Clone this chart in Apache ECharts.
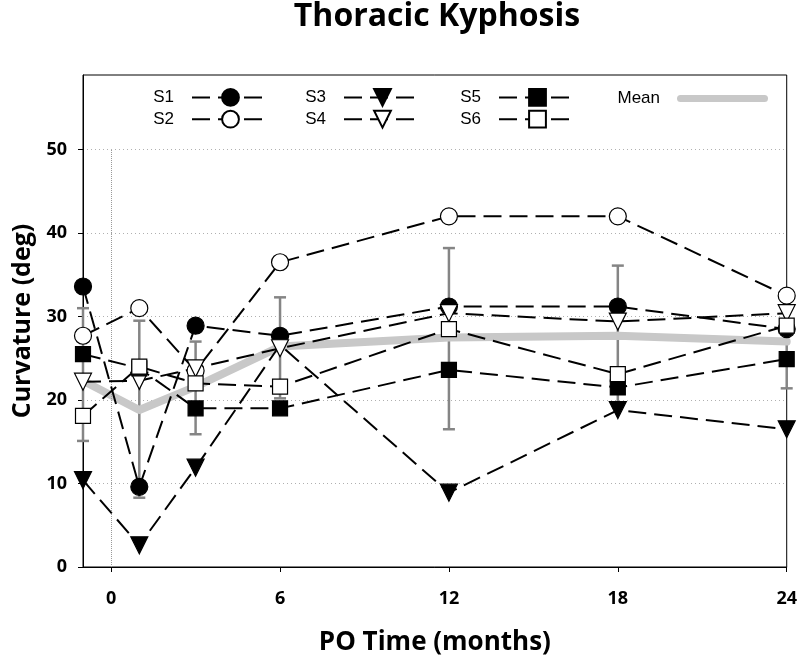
<!DOCTYPE html>
<html>
<head>
<meta charset="utf-8">
<script src="https://cdn.jsdelivr.net/npm/echarts@6/dist/echarts.min.js"></script>
<style>html,body{margin:0;padding:0;background:#fff;overflow:hidden}#c{width:800px;height:661px}</style>
</head>
<body>
<div id="c"></div>
<script>
const months = [-1, 1, 3, 6, 12, 18, 24];
const s1 = [33.6, 9.6, 28.9, 27.7, 31.2, 31.2, 28.5];
const s2 = [27.7, 31.0, 23.5, 36.5, 42.0, 42.0, 32.5];
const s3 = [10.4, 2.6, 11.9, 26.6, 8.9, 18.8, 16.5];
const s4 = [22.2, 22.3, 23.8, 26.2, 30.4, 29.4, 30.4];
const s5 = [25.5, 23.8, 19.0, 19.0, 23.6, 21.5, 24.9];
const s6 = [18.1, 24.0, 22.0, 21.6, 28.5, 23.1, 28.9];
const meanVals = [22.3, 18.8, 21.6, 26.4, 27.5, 27.7, 27.0];
const errLow = [15.1, 8.3, 15.9, 20.2, 16.5, 19.3, 21.4];
const errHigh = [31.0, 29.5, 27.0, 32.3, 38.2, 36.1, 32.6];
const xTicks = [0, 6, 12, 18, 24];
const yTicks = [0, 10, 20, 30, 40, 50];

const pairs = arr => months.map((m, i) => [m, arr[i]]);
const errData = months.map((m, i) => [m, errLow[i], errHigh[i]]);

const dash = [18, 8];
function sSeries(name, vals, symbol, filled, size, rotate) {
  return {
    name, type: 'line', data: pairs(vals), symbol, symbolSize: size, symbolRotate: rotate || 0,
    showAllSymbol: true, clip: false, z: 5,
    lineStyle: { color: '#000', width: 2, type: dash },
    itemStyle: { color: filled ? '#000' : '#fff', borderColor: '#000', borderWidth: 1.2 },
    emphasis: { disabled: true }
  };
}

const legText = { fontFamily: 'Liberation Sans, Arial, sans-serif', fontSize: 17, color: '#000', padding: [0, 13, 0, 0] };
function leg(data, right, w) {
  return { data, orient: 'vertical', right, top: 83, align: 'right', itemWidth: w || 77, itemHeight: 21,
    itemGap: 3, selectedMode: false, textStyle: legText };
}
const capsule = 'path://M3.5,0 L87.5,0 A3.5,3.5 0 0 1 87.5,7 L3.5,7 A3.5,3.5 0 0 1 3.5,0 Z';

const chart = echarts.init(document.getElementById('c'));
chart.setOption({
  animation: false,
  graphic: [{ type: 'text', x: 437, y: 1, style: { text: 'Thoracic Kyphosis', textAlign: 'center', textVerticalAlign: 'top',
    fontFamily: 'Open Sans, sans-serif', fontWeight: 'bold', fontSize: 32, fill: '#000' } }],
  legend: [
    leg(['S1', 'S2'], 525),
    leg(['S3', 'S4'], 373),
    leg(['S5', 'S6'], 218),
    { data: [{ name: 'Mean', icon: capsule }], orient: 'vertical', right: 27, top: 85, align: 'right',
      itemWidth: 91, itemHeight: 7, selectedMode: false, itemStyle: { color: '#c8c8c8', borderWidth: 0 },
      textStyle: Object.assign({}, legText, { padding: [0, 12, 0, 0] }) }
  ],
  grid: { left: 83, right: 11, top: 75, bottom: 91, show: true, borderColor: '#000', borderWidth: 1, containLabel: false },
  xAxis: {
    type: 'value', min: -1, max: 24,
    name: 'PO Time (months)', nameLocation: 'middle', nameGap: 63,
    nameTextStyle: { fontFamily: 'Open Sans, sans-serif', fontWeight: 'bold', fontSize: 26, color: '#000' },
    axisLine: { show: true, onZero: false, lineStyle: { color: '#000', width: 1 } },
    axisTick: { show: true, length: 5, customValues: xTicks, lineStyle: { color: '#000' } },
    axisLabel: { customValues: xTicks, margin: 23, fontFamily: 'Open Sans, sans-serif', fontWeight: 'bold', fontSize: 18, color: '#000' },
    splitLine: { show: false }
  },
  yAxis: {
    type: 'value', min: 0, max: 58.93,
    name: 'Curvature (deg)', nameLocation: 'middle', nameGap: 47, nameRotate: 90,
    nameTextStyle: { fontFamily: 'Open Sans, sans-serif', fontWeight: 'bold', fontSize: 25, color: '#000' },
    axisLine: { show: true, onZero: false, lineStyle: { color: '#000', width: 1 } },
    axisTick: { show: true, length: 5, customValues: yTicks, lineStyle: { color: '#000' } },
    axisLabel: { customValues: yTicks, margin: 16, fontFamily: 'Open Sans, sans-serif', fontWeight: 'bold', fontSize: 18, color: '#000' },
    splitLine: { show: true, lineStyle: { color: '#b0b0b0', type: [1, 3], width: 1 } }
  },
  series: [
    {
      name: 'err', type: 'custom', data: errData, clip: false, z: 2,
      encode: { x: 0, y: [1, 2] },
      renderItem(params, api) {
        const x = api.value(0);
        const pLo = api.coord([x, api.value(1)]);
        const pHi = api.coord([x, api.value(2)]);
        const cap = 6;
        const st = { stroke: '#858585', lineWidth: 2.5 };
        return { type: 'group', children: [
          { type: 'line', shape: { x1: pLo[0], y1: pLo[1], x2: pHi[0], y2: pHi[1] }, style: st },
          { type: 'line', shape: { x1: pLo[0] - cap, y1: pLo[1], x2: pLo[0] + cap, y2: pLo[1] }, style: st },
          { type: 'line', shape: { x1: pHi[0] - cap, y1: pHi[1], x2: pHi[0] + cap, y2: pHi[1] }, style: st }
        ]};
      }
    },
    {
      name: 'Mean', type: 'line', data: pairs(meanVals), symbol: 'none', z: 3, clip: false,
      lineStyle: { color: '#c8c8c8', width: 8, cap: 'round', join: 'round' },
      itemStyle: { color: '#c8c8c8' },
      emphasis: { disabled: true },
      markLine: { silent: true, symbol: 'none', label: { show: false },
        lineStyle: { color: '#999', type: 'dotted', width: 1 },
        data: [[{ coord: [0, 0] }, { coord: [0, 50] }]] }
    },
    sSeries('S1', s1, 'circle', true, 17),
    sSeries('S2', s2, 'circle', false, 17),
    sSeries('S3', s3, 'triangle', true, 17, 180),
    sSeries('S4', s4, 'triangle', false, 17, 180),
    sSeries('S5', s5, 'rect', true, 15),
    sSeries('S6', s6, 'rect', false, 15)
  ]
});
</script>
</body>
</html>
